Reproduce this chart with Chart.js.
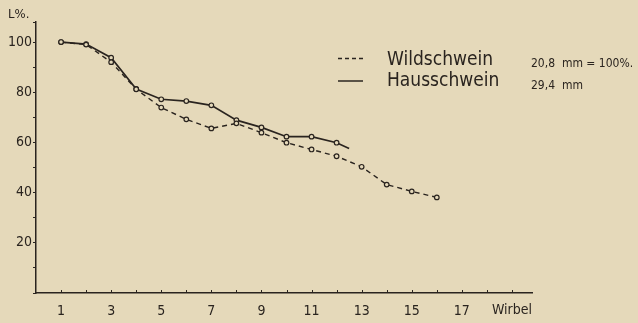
<!DOCTYPE html>
<html>
<head>
<meta charset="utf-8">
<script src="https://cdn.jsdelivr.net/npm/chart.js@4/dist/chart.umd.min.js"></script>
<style>
  html, body { margin: 0; padding: 0; background: #e5d9ba; }
  canvas { display: block; }
</style>
</head>
<body>
<canvas id="myChart" width="638" height="323"></canvas>
<script>
// Relative vertebra length (L%) along the spine
const wildX = [1, 2, 3, 4, 5, 6, 7, 8, 9, 10, 11, 12, 13, 14, 15, 16];
const wildschwein = [100, 99, 92, 81.2, 73.9, 69.2, 65.6, 67.6, 63.9, 59.9, 57.2, 54.5, 50.3, 43.2, 40.5, 38.1];
const hausX = [1, 2, 3, 4, 5, 6, 7, 8, 9, 10, 11, 12, 12.5];
const hausschwein = [100, 99.2, 93.8, 81.3, 77.2, 76.5, 74.8, 68.9, 66, 62.3, 62.3, 59.9, 57.6];
const xLabels = ['1', '3', '5', '7', '9', '11', '13', '15', '17'];
const yLabels = [20, 40, 60, 80, 100];

const ink = '#2a241f';
const paper = '#e5d9ba';
const font = 'DejaVu Sans Condensed, DejaVu Sans, sans-serif';

const wildPoints = wildX.map((x, i) => ({ x: x, y: wildschwein[i] }));
const hausPoints = hausX.map((x, i) => ({ x: x, y: hausschwein[i] }));

// small tick marks pointing up from the x axis, legend and extra labels
const decorations = {
    id: 'decorations',
    afterDraw(chart) {
        const ctx = chart.ctx;
        const xs = chart.scales.x;
        const ys = chart.scales.y;
        const y0 = ys.getPixelForValue(0);
        ctx.save();
        ctx.strokeStyle = ink;
        ctx.lineWidth = 1;
        for (let v = 1; v <= 19; v++) {
            const px = Math.round(xs.getPixelForValue(v)) + 0.5;
            ctx.beginPath();
            ctx.moveTo(px, y0);
            ctx.lineTo(px, y0 - 3);
            ctx.stroke();
        }

        ctx.fillStyle = ink;
        ctx.textBaseline = 'middle';
        ctx.font = '14px ' + font;
        ctx.textAlign = 'center';
        ctx.fillText('Wirbel', xs.getPixelForValue(19), 310);
        ctx.textAlign = 'left';
        ctx.font = '13px ' + font;
        ctx.fillText('L%.', 8, 15);

        // legend
        ctx.lineWidth = 1.3;
        ctx.setLineDash([4, 3]);
        ctx.beginPath();
        ctx.moveTo(338, 58.5);
        ctx.lineTo(363, 58.5);
        ctx.stroke();
        ctx.setLineDash([]);
        ctx.lineWidth = 1.5;
        ctx.beginPath();
        ctx.moveTo(338, 81);
        ctx.lineTo(363, 81);
        ctx.stroke();

        ctx.font = '19px ' + font;
        ctx.fillText('Wildschwein', 387, 60);
        ctx.fillText('Hausschwein', 387, 81);
        ctx.font = '12px ' + font;
        ctx.fillText('20,8  mm = 100%.', 531, 64);
        ctx.fillText('29,4  mm', 531, 86);
        ctx.restore();
    }
};

const chart = new Chart(document.getElementById('myChart'), {
    type: 'scatter',
    data: {
        datasets: [
            {
                label: 'Wildschwein',
                data: wildPoints,
                showLine: true,
                borderColor: ink,
                borderWidth: 1.4,
                borderDash: [5, 4],
                pointRadius: 2.3,
                pointBorderWidth: 1.2,
                pointBorderColor: ink,
                pointBackgroundColor: paper
            },
            {
                label: 'Hausschwein',
                data: hausPoints,
                showLine: true,
                borderColor: ink,
                borderWidth: 1.7,
                pointRadius: hausX.map(x => Number.isInteger(x) ? 2.3 : 0),
                pointBorderWidth: 1.2,
                pointBorderColor: ink,
                pointBackgroundColor: paper
            }
        ]
    },
    options: {
        responsive: false,
        animation: false,
        layout: { padding: { top: 22, right: 106, left: 0, bottom: 0 } },
        plugins: {
            legend: { display: false },
            tooltip: { enabled: false }
        },
        scales: {
            x: {
                type: 'linear',
                min: 0,
                max: 19.8,
                afterFit: scale => { scale.height = 30; },
                border: { color: ink, width: 1.5 },
                grid: { display: false },
                ticks: {
                    stepSize: 1,
                    autoSkip: false,
                    maxRotation: 0,
                    padding: 2,
                    color: ink,
                    font: { family: font, size: 14 },
                    callback: v => xLabels.includes(String(v)) ? String(v) : ''
                }
            },
            y: {
                min: 0,
                max: 108,
                afterFit: scale => { scale.width = 36; },
                border: { color: ink, width: 1.5 },
                grid: { drawOnChartArea: false, tickLength: 3, color: ink, lineWidth: 1 },
                ticks: {
                    stepSize: 10,
                    padding: 1,
                    color: ink,
                    font: { family: font, size: 14 },
                    callback: v => yLabels.includes(v) ? String(v) : ''
                }
            }
        }
    },
    plugins: [decorations]
});
</script>
</body>
</html>
